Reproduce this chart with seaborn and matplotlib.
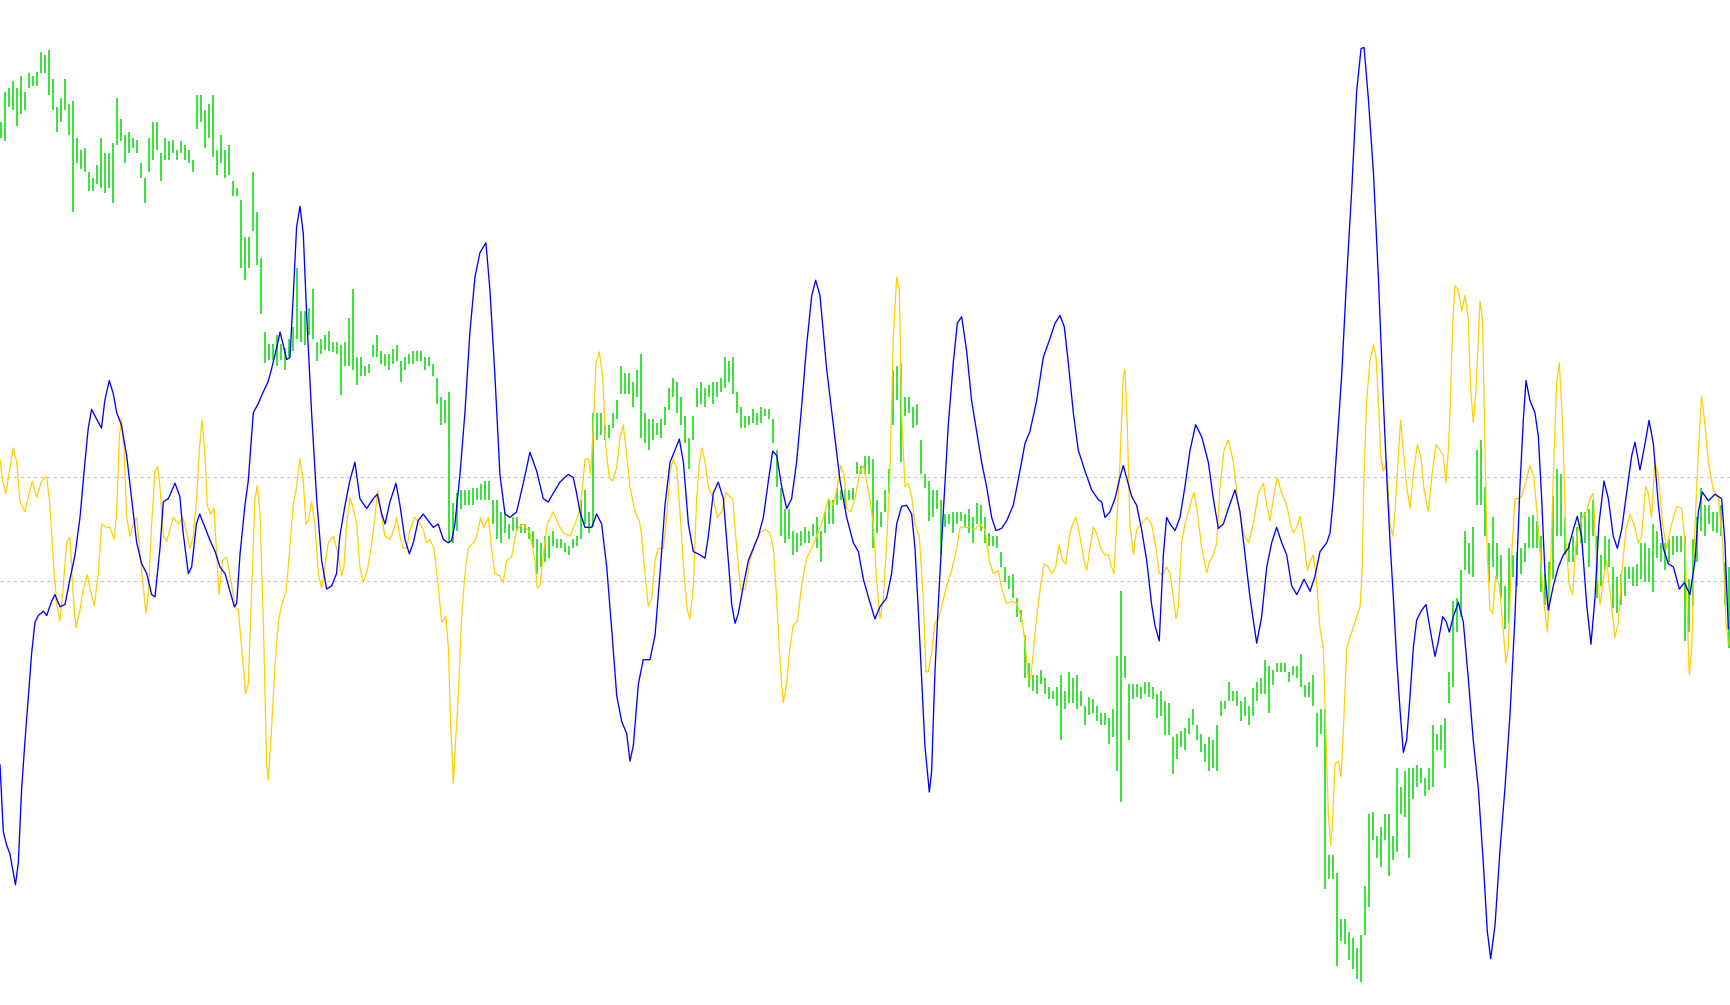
import numpy as np
import matplotlib
matplotlib.use("Agg")
import matplotlib.pyplot as plt
import seaborn as sns

# chart units: x = bar position across the chart, y = level (top of chart = 0)
levels = [432, 527]

# price bars (high / low), one every other bar
green_top = [
    111, 83, 80, 73, 80, 69, 83, 66, 69, 65, 47, 50, 45, 72, 97, 89, 72, 94, 92, 125,
    136, 134, 156, 161, 150, 125, 139, 139, 130, 89, 108, 122, 120, 125, 127, 148, 161, 125, 111, 111,
    139, 125, 128, 127, 136, 128, 131, 136, 145, 86, 86, 100, 94, 86, 136, 122, 136, 131, 164, 170,
    181, 215, 215, 156, 192, 234, 301, 312, 312, 304, 312, 315, 307,
    296, 243, 282, 282, 279, 262, 310, 307, 304, 300, 310, 310, 313, 310, 288, 262, 324, 324, 332, 330,
    313, 304, 318, 321, 321, 316, 313, 327, 324, 321, 318, 318, 318, 324, 324, 330, 343, 360, 363, 355,
    456, 447, 444, 444, 444, 442, 442, 439, 436, 436, 453, 453, 464, 464, 475, 469, 469, 475, 475, 478,
    481, 489, 492, 486, 486, 481, 489, 489, 492, 495, 489, 486,
    453, 444, 464, 374, 374, 374, 385, 385, 374, 363, 332, 338, 338, 346, 335, 321, 374, 380, 380, 383,
    380, 369, 352, 343, 346, 360, 377, 397, 377, 352, 346, 352, 349, 346, 346, 343, 324, 327, 324, 355,
    369, 377, 377, 371, 374, 369, 371, 371, 380, 408, 442, 461, 461, 481, 483, 481, 478, 481, 475, 469,
    481, 464, 453, 453, 442, 444, 444, 444, 442, 419, 422, 413, 413,
    416, 453, 464, 444, 425, 335, 332, 329, 360, 360, 369, 366, 399, 430, 436, 444, 444, 453, 466, 466,
    464, 464, 464, 466, 461, 469, 456, 458, 469, 483, 486, 486, 500, 514, 522, 520, 542, 553, 576, 601,
    612, 612, 607, 615, 623, 626, 623, 612, 626, 609, 615, 612, 626, 640, 632, 634, 640, 646, 646, 651,
    643, 595, 536, 595, 620, 620, 620, 623, 618, 618, 623, 629,
    626, 635, 637, 668, 665, 663, 660, 651, 643, 657, 665, 674, 668, 671, 657, 635, 635, 618, 626, 626,
    635, 632, 640, 624, 618, 615, 598, 604, 607, 601, 601, 601, 609, 604, 604, 593, 621, 618, 612, 646,
    643, 643, 775, 775, 791, 833, 833, 845, 850, 859, 848, 803, 738, 736, 758, 750, 738, 738, 758, 696,
    713, 699, 696, 696, 693, 696, 705, 696, 657, 665, 657, 651, 609,
    545, 542, 517, 481, 492, 478, 408, 399, 441, 492, 469, 492, 503, 531, 497, 503, 500, 497, 492, 469,
    467, 472, 486, 520, 509, 450, 425, 430, 469, 492, 486, 478, 464, 464, 461, 453, 486, 503, 486, 489,
    514, 523, 520, 514, 514, 514, 511, 492, 492, 497, 475, 481, 492, 492, 489, 486, 486, 486, 486, 525,
    489, 469, 442, 458, 458, 464, 464, 458, 509, 514,
]
green_bot = [
    125, 128, 97, 100, 114, 103, 100, 80, 78, 78, 66, 66, 86, 100, 120, 111, 100, 122, 192, 148,
    153, 156, 173, 173, 167, 170, 175, 170, 184, 131, 128, 148, 139, 134, 139, 161, 184, 156, 145, 136,
    164, 145, 145, 139, 145, 139, 145, 148, 156, 117, 111, 134, 125, 142, 159, 148, 161, 159, 178, 178,
    243, 254, 243, 209, 240, 285, 329, 326, 326, 332, 326, 335, 324,
    318, 307, 310, 313, 304, 307, 327, 321, 317, 318, 319, 321, 358, 332, 332, 335, 349, 341, 341, 338,
    324, 324, 330, 332, 335, 330, 327, 346, 335, 330, 330, 327, 327, 335, 332, 341, 366, 385, 383, 492,
    492, 481, 461, 458, 458, 458, 453, 453, 453, 453, 475, 489, 492, 483, 489, 481, 481, 483, 483, 489,
    497, 520, 514, 509, 506, 495, 497, 497, 500, 503, 497, 495,
    489, 475, 483, 478, 399, 394, 399, 397, 388, 380, 357, 357, 357, 369, 360, 397, 402, 408, 399, 394,
    397, 385, 372, 360, 374, 385, 402, 425, 399, 369, 366, 369, 360, 366, 360, 355, 352, 346, 357, 374,
    388, 388, 385, 383, 385, 383, 377, 380, 402, 441, 486, 492, 489, 503, 500, 495, 492, 492, 486, 497,
    509, 483, 475, 475, 458, 453, 461, 453, 453, 430, 430, 430, 430,
    497, 483, 478, 464, 447, 385, 363, 419, 377, 374, 388, 385, 430, 442, 472, 469, 461, 503, 478, 475,
    483, 475, 472, 478, 483, 492, 475, 481, 492, 495, 495, 497, 514, 528, 534, 542, 559, 564, 615, 623,
    626, 629, 620, 629, 634, 634, 640, 671, 643, 637, 637, 643, 640, 657, 648, 646, 654, 657, 657, 674,
    668, 699, 727, 615, 671, 634, 632, 634, 629, 632, 634, 651,
    649, 666, 666, 702, 688, 677, 680, 665, 657, 671, 682, 691, 699, 696, 699, 649, 643, 635, 635, 640,
    654, 649, 657, 649, 635, 629, 629, 646, 621, 609, 609, 609, 618, 612, 615, 623, 632, 632, 640, 677,
    665, 806, 797, 797, 876, 853, 856, 870, 878, 887, 890, 848, 822, 761, 778, 786, 761, 794, 780, 772,
    738, 741, 778, 724, 713, 710, 722, 716, 713, 680, 680, 696, 637,
    623, 573, 559, 517, 520, 523, 458, 458, 486, 528, 514, 525, 542, 570, 565, 523, 531, 520, 509, 497,
    497, 497, 537, 548, 554, 525, 486, 486, 503, 509, 509, 503, 492, 492, 514, 486, 542, 531, 517, 514,
    551, 556, 548, 540, 525, 531, 531, 525, 528, 528, 537, 506, 509, 517, 509, 503, 500, 500, 581, 573,
    548, 509, 481, 486, 475, 481, 483, 486, 548, 587,
]

# blue oscillator
blue_x = [
    0, 3, 6, 9, 14, 16.6, 19.6, 22.7, 25.7, 28.7, 31.7, 34.7, 39.3, 42.3, 46.8, 49.8, 54.4, 58.9, 63.4, 68,
    72.5, 77, 80, 83, 87.6, 92, 95, 99, 102.7, 105.7, 110, 114.8, 119.3, 123.9, 128.4, 133, 137.5, 140.5, 145, 148,
    152.6, 158.6, 163, 166, 170.7, 173.7, 178, 181, 185.8, 190, 195, 199.4, 204, 208.5, 212.4, 214.5, 217.5, 222, 225, 229.6,
    234, 238.7, 243, 246, 250.8, 253.8, 256.8, 259.8, 262.8, 265.8, 268.8, 271.9, 274.9, 277.9, 282.4, 287, 291.5, 296, 300.6, 305,
    308, 312.7, 317, 321.7, 326.2, 332.3, 338.3, 342, 346, 349, 353.4, 358.9, 362.5, 367, 371, 374.6, 379, 383.6, 388.2, 392.7,
    397.2, 401.8, 406.3, 409.3, 412.3, 416.9, 421.4, 425.9, 430.5, 435, 440.4, 444, 448.6, 453.1, 457.7, 462.2, 468.2, 474.3, 480.3, 486.4,
    492.4, 496.9, 501.5, 507.5, 515, 519.6, 522.6, 525.7, 530.2, 536.3, 540.8, 545.3, 549.9, 554.4, 559, 563.5, 568, 571, 574, 578.6,
    583, 589.1, 593.7, 598.2, 602.7, 607.3, 611.8, 615.7, 619.4, 623.9, 628.4, 634.5, 639, 642, 646.5, 651, 655.6, 660.1, 663.2, 666.2,
    669.2, 673.7, 678.3, 682.8, 687.3, 691.9, 696.4, 700.3, 704, 708.5, 713, 717.5, 722, 726.6, 731.1, 735.7, 739.3, 743.2, 749.3, 755.3,
    761.4, 767.4, 773.4, 778, 782.5, 787, 793, 797.6, 803.6, 808.1, 812.7, 817.2, 821.7, 826.3, 829.3, 832.3, 835.3, 838.3, 842.3, 844.4,
    847.4, 850.4, 855, 859.5, 864, 867.7, 871.6, 876.1, 880.6, 885.2, 889.7, 894.2, 898.8, 902.7, 907.8, 912.4, 918.4, 924.4, 929, 933.5,
    939.6, 945.6, 951.6, 956.2, 960.7, 964.6, 968.3, 972.8, 977.3, 983.4, 989.4, 995.5, 998.5, 1001.5, 1006, 1010.6, 1015, 1018.1, 1021.1, 1025.7,
    1030.2, 1034.7, 1039.3, 1043.8, 1046.8, 1050.7, 1054.4, 1057.4, 1060.5, 1065, 1069.5, 1074, 1078.6, 1083.7, 1089.2, 1095.2, 1099.7, 1104.3, 1108.8, 1113.3,
    1119.4, 1123.9, 1128.4, 1133, 1139, 1143.5, 1148.1, 1152.6, 1157.1, 1161.7, 1166.2, 1170.7, 1175.3, 1178.3, 1181.9, 1187.4, 1191.9, 1196.4, 1202.5, 1205.5,
    1208.5, 1211.5, 1216, 1220.6, 1225.1, 1229.6, 1233.6, 1236.3, 1240.2, 1244.8, 1249.3, 1253.8, 1256.8, 1259.9, 1262.9, 1265.9, 1268.9, 1271.9, 1274.9, 1278,
    1281, 1284, 1288.6, 1292.5, 1296.1, 1300.6, 1303.7, 1307.6, 1310.6, 1313.6, 1317.2, 1321.8, 1326.3, 1330.8, 1335.3, 1339.9, 1344.4, 1348, 1351.1, 1355,
    1359.5, 1364, 1368.6, 1373.1, 1377.6, 1380.7, 1383.1, 1386.7, 1391.2, 1394.3, 1397.3, 1400.3, 1403.3, 1407.9, 1412.4, 1416.9, 1421.5, 1426, 1429.6, 1433.5,
    1438.1, 1442, 1445.6, 1449.2, 1453.8, 1457.7, 1462.2, 1465.9, 1469.8, 1474.3, 1478.9, 1481.9, 1486.4, 1491, 1494.6, 1498.5, 1503.1, 1507.6, 1512.1, 1516.7,
    1522.1, 1526.6, 1531.7, 1536.3, 1539.3, 1542.9, 1548.4, 1554.4, 1560.4, 1563.4, 1566.5,
]
blue_y = [
    693, 754, 766, 774, 802, 782, 715, 671, 631, 592, 564, 558, 554, 558, 545, 539, 550, 548, 525, 503,
    469, 419, 388, 371, 380, 388, 363, 345, 357, 374, 385, 413, 452, 492, 511, 520, 539, 541, 497, 455,
    452, 438, 450, 483, 520, 514, 475, 466, 478, 489, 500, 514, 520, 536, 550, 547, 503, 458, 436, 374,
    366, 355, 346, 335, 315, 301, 313, 326, 324, 268, 206, 187, 212, 285, 374, 452, 508, 534, 531, 520,
    486, 458, 436, 419, 452, 461, 452, 448, 466, 475, 455, 438, 458, 489, 502, 492, 472, 466, 472, 478,
    475, 489, 492, 490, 475, 430, 374, 301, 251, 229, 220, 262, 341, 430, 466, 469, 464, 438, 410, 427,
    452, 455, 447, 437, 430, 433, 447, 464, 478, 478, 466, 475, 514, 570, 631, 654, 665, 690, 676, 620,
    598, 598, 576, 520, 458, 419, 408, 398, 419, 475, 500, 503, 506, 486, 447, 437, 452, 508, 548, 565,
    556, 531, 508, 497, 486, 469, 436, 409, 413, 441, 461, 452, 419, 368, 313, 268, 254, 268, 335, 385,
    436, 469, 492, 500, 525, 541, 561, 550, 542, 520, 475, 459, 458, 466, 497, 553, 615, 676, 718, 699,
    609, 548, 464, 385, 329, 293, 287, 318, 363, 391, 419, 441, 469, 481, 479, 472, 458, 427, 402, 391,
    363, 324, 307, 293, 286, 296, 329, 374, 408, 427, 444, 453, 455, 469, 464, 452, 433, 422, 433, 450,
    458, 480, 508, 548, 567, 581, 503, 469, 475, 481, 469, 441, 408, 385, 396, 419, 452, 479, 475, 461,
    444, 464, 503, 542, 583, 559, 514, 492, 478, 492, 503, 531, 539, 533, 525, 536, 522, 500, 492, 483,
    452, 408, 341, 251, 173, 83, 44, 43, 89, 156, 251, 363, 430, 492, 542, 598, 643, 682, 671, 631,
    587, 562, 553, 548, 570, 595, 581, 559, 563, 573, 559, 546, 564, 615, 671, 715, 782, 844, 869, 839,
    771, 715, 648, 559, 441, 380, 345, 363, 374, 396, 452, 520, 553, 531, 514, 503, 497, 480, 468, 486,
    548, 584, 542, 475, 436, 452, 486, 497, 480, 447, 413, 401, 426, 402, 381, 402, 458, 497, 511, 514,
    534, 528, 539, 508, 464, 446, 454, 448, 452, 492, 570,
]

# yellow oscillator
yellow_x = [
    0, 2.4, 5.4, 8.5, 12.1, 15.1, 18.1, 22.7, 25.7, 29.3, 33.2, 37.8, 42.3, 45.3, 48.3, 51.4, 54.4, 57.4, 60.4, 63.4,
    66.5, 68.9, 72.5, 75.5, 79.2, 82.2, 85.5, 89.1, 92.1, 96.1, 99.7, 103.6, 105.7, 108.2, 110, 112.4, 114.8, 117.8, 120.8, 123.9,
    126.9, 129.9, 132.3, 134.4, 137.5, 140.5, 142.9, 145, 148, 151, 154, 157.1, 161.6, 165.6, 168.6, 172.2, 175.2, 178.2, 180.7, 183.1,
    185.5, 187.9, 190.9, 194, 196.4, 198.5, 201.8, 205.4, 209.1, 213, 216, 219, 222.7, 225, 229, 231.1, 233.2, 235.6, 238.7, 241.7,
    243.2, 246.2, 249.2, 252.3, 255.3, 259.2, 261.3, 262.8, 265.8, 268.8, 271.9, 274.9, 277.3, 279.4, 282.4, 285.5, 288.5, 291.5, 294.5, 297.5,
    302.1, 306.6, 309.6, 311.7, 314.2, 317.2, 320.2, 323.2, 326.2, 329.3, 332.9, 336.8, 339.8, 342.3, 345.9, 348.9, 353.4, 357.1, 359.5, 362.5,
    365.5, 368.6, 371.6, 376.1, 380.6, 383.6, 386.7, 389.7, 393.3, 397.2, 400.3, 404.2, 406.3, 408.4, 410.9, 413, 415.4, 418.4, 421.4, 424.4,
    429, 432, 435.6, 438.6, 442.6, 445.6, 448.6, 453.1, 456.2, 459.2, 463.7, 468.2, 474.3, 480.3, 484.8, 486.9, 489.4, 492.4, 496, 501.5,
    506, 510.5, 516.6, 521.1, 525.1, 528.1, 530.2, 533.3, 535.4, 537.8, 540.2, 543.2, 546.2, 549.3, 552.3, 555.3, 558.9, 562, 565, 568,
    571, 575.6, 579.5, 581.6, 584.6, 587.6, 590.7, 593.7, 596.7, 601.2, 604.2, 607.3, 610.3, 613.3, 616.3, 619.9, 622.9, 625.4, 628.4, 631.4,
    633.9, 636.3, 639, 642, 646.5, 650.2, 654.1, 658, 661.1, 664.1, 667.7, 671.3, 675.3, 679.8, 684.3, 688.8, 693.4, 697.9, 700.9, 703.9,
    706.9, 709.9, 712.9, 715.9, 718.9, 722.7, 726.6, 731.1, 735.7, 740.2, 744.7, 750.8, 755.3, 759, 762, 765, 767.4, 771, 775, 779.5,
    782.5, 785.5, 788, 791.5, 794.5, 797.6, 800.6, 803.6, 806.6, 809.6, 812.7, 815.1, 817.2, 820.2, 823.2, 826.3, 829.3, 833.2, 836.8, 839.2,
    841.4, 844.4, 847.4, 850.4, 853.5, 858, 862.5, 867.1, 870.1, 874.6, 879.1, 883.7, 888.2, 892.7, 896.7, 900.3, 904.8, 907.8, 912.4, 916.9,
    921.4, 926, 929, 932, 934.1, 936.5, 939.6, 943.2, 946.2, 950.1, 953.2, 956.8, 959.8, 963.1, 966.1, 969.2, 972.2, 975.2, 978.8, 982.5,
    984.9, 987.9, 990.9, 993.9, 997.6, 1001.5, 1004.5, 1007.5, 1009.6, 1012.1, 1015.1, 1018.1, 1019.6, 1021.7, 1024.1, 1027.2, 1030.2, 1034.7, 1039.3, 1043.8,
    1047.7, 1050.7, 1054.4, 1057.4, 1060.5, 1063.5, 1065.9, 1068, 1071, 1074, 1078.6, 1082.2, 1085.2, 1089.2, 1093.7, 1096.7, 1099.7, 1102.8, 1105.8, 1109.4,
    1113.3, 1117.9, 1122.4, 1126.9, 1131.5, 1136, 1140.5, 1145.1, 1148.1, 1151.1, 1154.1, 1157.7, 1161.7, 1166.2, 1169.8, 1172.2, 1175.3, 1178.3, 1181.3, 1184.9,
    1187.9, 1190.4, 1193.4, 1196.4, 1199.4, 1201.9, 1204, 1206.1, 1207.9, 1210, 1213, 1215.5, 1217.5, 1220.6, 1225.1, 1229.6, 1232.7, 1234.5, 1236.3, 1238.7,
    1241.7, 1244.8, 1247.2, 1249.3, 1251.4, 1253.8, 1256.8, 1259.9, 1262.3, 1264.4, 1267.4, 1269.5, 1271.9, 1274.9, 1278, 1281, 1284.6, 1287.7, 1290.7, 1294.6,
    1297.6, 1301.5, 1305.2, 1308.2, 1310.6, 1312.7, 1314.2, 1316.6, 1318.7, 1321.8, 1324.8, 1327.8, 1330.8, 1332.9, 1335.3, 1337.8, 1341.4, 1343.8, 1345.9, 1348,
    1350.5, 1352.9, 1355.6, 1358.9, 1361.9, 1364.9, 1367.1, 1370.1, 1373.1, 1376.1, 1379.2, 1383.1, 1386.7, 1390.3, 1393.4, 1396.4, 1399.4, 1402.4, 1404.8, 1407.9,
    1410.9, 1413.3, 1416.3, 1419.3, 1422.4, 1425.4, 1428.4, 1431.4, 1434.4, 1438.1, 1441.1, 1444.1, 1447.1, 1450.2, 1453.2, 1456.2, 1459.8, 1463.7, 1466.8, 1469.8,
    1473.7, 1477.3, 1480.9, 1484.9, 1487.9, 1491.5, 1493.9, 1496.9, 1499.9, 1503, 1506.9, 1510.6, 1515.1, 1519.6, 1524.2, 1527.2, 1529.3, 1531.1, 1533.3, 1536.3,
    1539.3, 1542.3, 1545.3, 1548.4, 1552.9, 1557.5, 1561.4, 1564.4, 1566.5,
]
yellow_y = [
    416, 436, 447, 427, 406, 419, 455, 464, 450, 436, 451, 436, 432, 458, 508, 548, 563, 531, 492, 487,
    542, 569, 553, 534, 521, 536, 549, 520, 475, 478, 478, 489, 464, 396, 379, 408, 469, 486, 475, 469,
    503, 533, 556, 539, 475, 427, 423, 441, 486, 491, 480, 469, 475, 469, 480, 497, 486, 452, 408, 381,
    408, 458, 466, 461, 503, 539, 508, 505, 525, 550, 553, 587, 629, 620, 508, 452, 440, 464, 564, 693,
    707, 659, 603, 564, 548, 537, 514, 494, 458, 441, 416, 436, 475, 472, 455, 475, 520, 533, 514, 492,
    486, 503, 522, 514, 475, 451, 461, 475, 514, 528, 517, 494, 469, 444, 469, 486, 489, 480, 469, 486,
    497, 497, 480, 469, 475, 480, 492, 489, 497, 531, 564, 559, 587, 654, 710, 671, 631, 559, 520, 497,
    492, 487, 469, 478, 469, 497, 520, 522, 528, 508, 505, 480, 475, 483, 508, 533, 531, 503, 475, 464,
    475, 483, 486, 475, 464, 441, 416, 416, 430, 385, 329, 319, 341, 408, 433, 436, 424, 396, 385, 413,
    441, 464, 472, 486, 520, 550, 542, 508, 497, 497, 469, 427, 416, 424, 464, 520, 553, 561, 531, 452,
    419, 406, 419, 441, 452, 469, 464, 446, 450, 452, 497, 534, 534, 508, 492, 483, 480, 483, 497, 542,
    598, 637, 620, 587, 567, 563, 531, 506, 497, 486, 475, 452, 458, 441, 422, 430, 461, 464, 452, 427,
    422, 436, 450, 475, 525, 561, 542, 492, 430, 307, 251, 262, 374, 441, 438, 450, 475, 486, 542, 609,
    609, 592, 564, 562, 550, 531, 517, 497, 478, 478, 478, 480, 475, 480, 508, 520, 517, 533, 547, 545,
    547, 561, 581, 615, 615, 592, 559, 531, 511, 514, 520, 514, 494, 508, 511, 486, 475, 469, 486, 508,
    517, 497, 478, 483, 497, 503, 503, 514, 520, 475, 419, 341, 335, 385, 475, 503, 480, 475, 469, 475,
    497, 520, 520, 514, 520, 542, 561, 550, 492, 475, 458, 446, 464, 497, 519, 508, 503, 492, 441, 408,
    399, 419, 458, 483, 492, 475, 447, 438, 458, 472, 452, 433, 447, 458, 475, 483, 478, 468, 486, 517,
    508, 503, 528, 570, 587, 671, 738, 766, 743, 693, 690, 704, 665, 587, 573, 559, 550, 519, 430, 363,
    327, 313, 324, 363, 413, 427, 419, 475, 486, 464, 413, 381, 408, 441, 461, 430, 403, 413, 444, 464,
    433, 403, 408, 413, 438, 408, 374, 296, 259, 263, 282, 268, 290, 352, 383, 352, 273, 290, 408, 503,
    553, 556, 522, 531, 564, 601, 587, 503, 452, 452, 450, 436, 422, 433, 469, 508, 547, 573, 531, 430,
    346, 329, 385, 492, 531, 539, 492, 475, 469, 464, 452, 447, 514, 548, 525, 508, 542, 578, 564, 520,
    480, 466, 475, 492, 486, 441, 447, 469, 419, 430, 475, 497, 475, 459, 461, 492, 559, 612, 587, 475,
    408, 359, 385, 419, 444, 452, 492, 564, 584,
]

green_x = (np.arange(len(green_top)) * 4 + 4 / 3) / 1.1033

sns.set_style("white")
fig = plt.figure(figsize=(17.3, 10.05), dpi=100)
ax = fig.add_axes([0, 0, 1, 1])

for lv in levels:
    ax.axhline(lv, color="#c4c4c4", linestyle=(0, (3, 3)), linewidth=0.8, zorder=1)

ax.vlines(green_x, green_top, green_bot, color="#26e026", linewidth=1.3, zorder=2)

sns.lineplot(x=yellow_x, y=yellow_y, ax=ax, color="#ffd000", linewidth=0.9,
             sort=False, estimator=None, zorder=3)
sns.lineplot(x=blue_x, y=blue_y, ax=ax, color="#0000ff", linewidth=0.95,
             sort=False, estimator=None, zorder=4)

ax.set_xlim(0, 1568)
ax.set_ylim(911, 0)
ax.axis("off")

plt.savefig("out.png", dpi=100, facecolor="white")
print("saved out.png")
